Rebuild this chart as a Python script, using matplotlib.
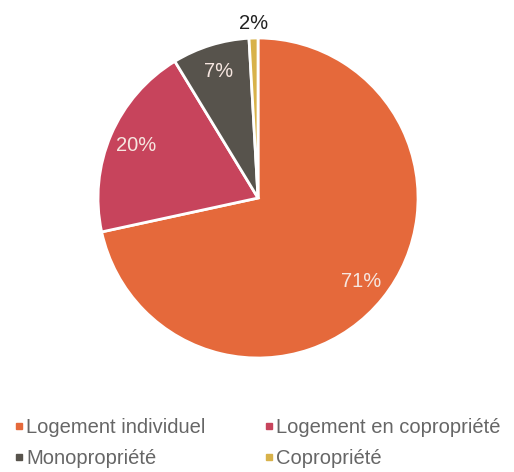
import matplotlib
matplotlib.use("Agg")
import matplotlib.pyplot as plt
import numpy as np
from matplotlib.lines import Line2D

categories = ["Logement individuel", "Logement en copropriété", "Monopropriété", "Copropriété"]
shares = [71.6, 19.7, 7.8, 0.9]
pct_labels = ["71%", "20%", "7%", "2%"]
colors = ["#E5693B", "#C7445C", "#57534C", "#D8B24A"]

plt.rcParams['font.family'] = ['Liberation Sans', 'DejaVu Sans']

fig = plt.figure(figsize=(5.14, 4.72), dpi=100)
ax = fig.add_axes([0.1907, 0.2415, 0.6226, 0.678])
wedges, _ = ax.pie(shares, colors=colors, startangle=90, counterclock=False,
                   radius=1.0, wedgeprops=dict(edgecolor="white", linewidth=2))
ax.set_xlim(-1, 1)
ax.set_ylim(-1, 1)
ax.set_aspect("equal")
ax.axis("off")

for i, w in enumerate(wedges):
    ang = np.deg2rad((w.theta1 + w.theta2) / 2)
    if i == 3:
        r, col = 1.09, "#222222"
    else:
        r, col = 0.83, "#F6E6E0"
    ax.text(r * np.cos(ang), r * np.sin(ang), pct_labels[i], ha="center", va="center",
            fontsize=14.5, color=col, clip_on=False)

order = [0, 2, 1, 3]
handles = [Line2D([0], [0], marker="s", linestyle="", markersize=5,
                  markerfacecolor=colors[k], markeredgecolor=colors[k]) for k in order]
labels = [categories[k] for k in order]
fig.legend(handles, labels, ncol=2, loc="upper left", bbox_to_anchor=(0.028, 0.115),
           frameon=False, fontsize=14.5, handlelength=0.45, handletextpad=0.15,
           columnspacing=2.9, labelspacing=0.6, labelcolor="#666666",
           borderpad=0, borderaxespad=0)

fig.savefig("out.png", dpi=100)
